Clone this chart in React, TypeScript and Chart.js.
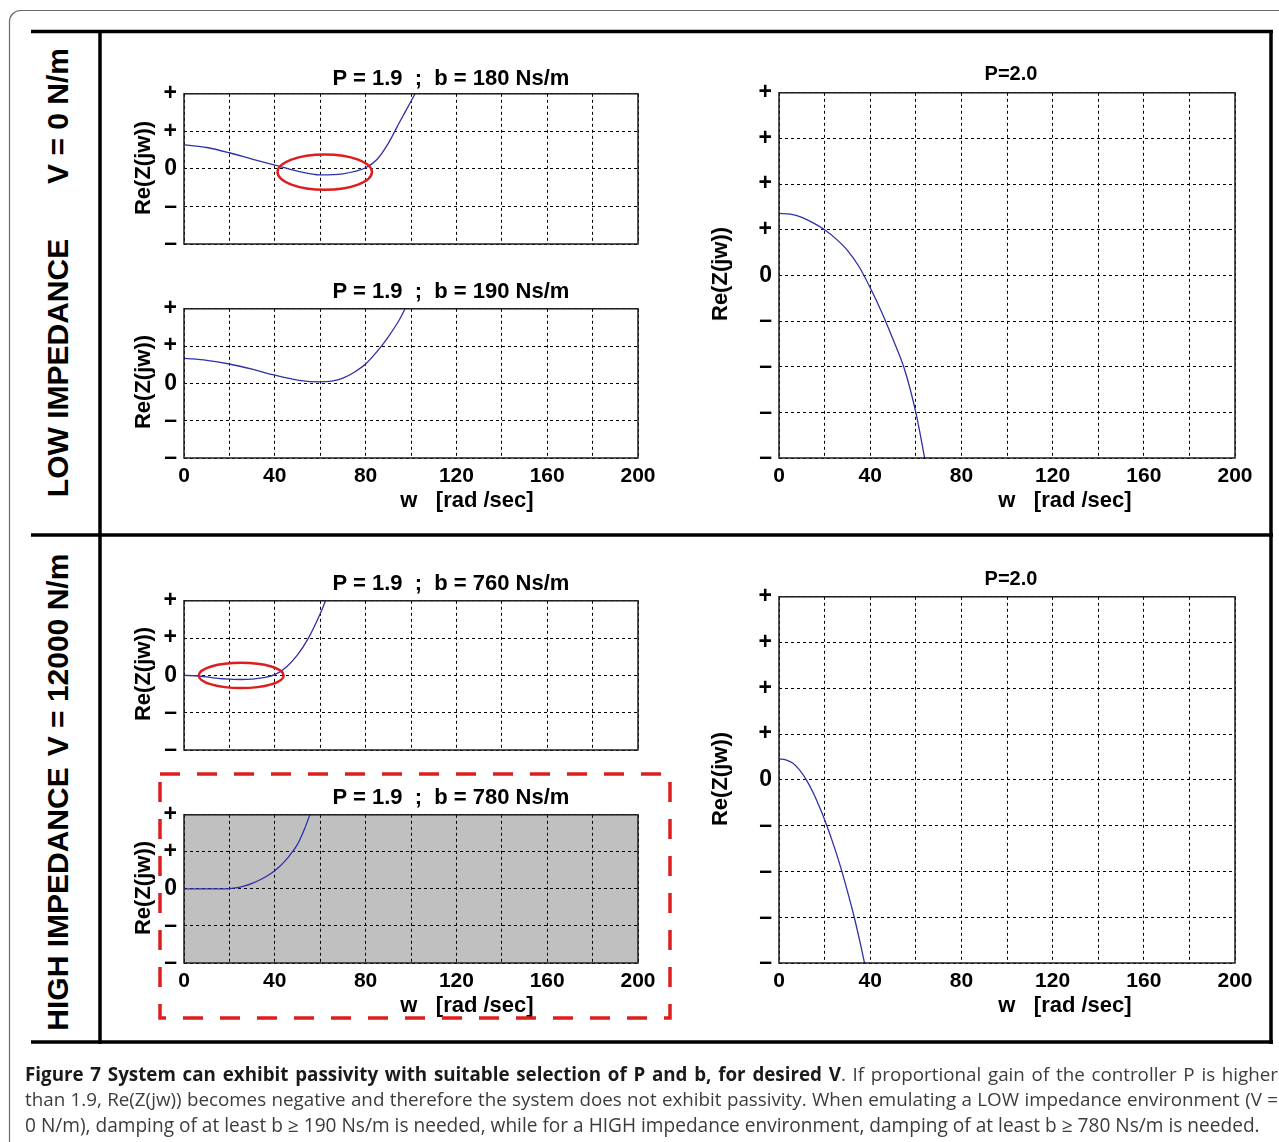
import React, { useEffect, useRef } from 'react';
import { Chart, registerables } from 'chart.js';

Chart.register(...registerables);

// ---------------- data ----------------
const wTickLabels = ['0', '40', '80', '120', '160', '200'];
const reTickSmall = ['–', '–', '0', '+', '+'];
const reTickLarge = ['–', '–', '–', '–', '0', '+', '+', '+', '+'];

// LOW impedance, P = 1.9, b = 180
const w180 = [0, 10, 20, 30, 40, 50, 60, 70, 80, 85, 90, 95, 100, 104];
const re180 = [0.64, 0.57, 0.43, 0.26, 0.1, -0.06, -0.16, -0.13, 0.03, 0.25, 0.68, 1.25, 1.8, 2.25];
// LOW impedance, P = 1.9, b = 190
const w190 = [0, 10, 20, 30, 40, 50, 60, 65, 70, 75, 80, 85, 90, 95, 99];
const re190 = [0.67, 0.62, 0.52, 0.38, 0.22, 0.09, 0.04, 0.06, 0.14, 0.3, 0.52, 0.85, 1.25, 1.72, 2.2];
// LOW impedance, P = 2.0
const wLowP2 = [0, 5, 10, 15, 20, 25, 30, 35, 40, 45, 50, 55, 60, 65];
const reLowP2 = [1.36, 1.34, 1.27, 1.15, 1.0, 0.8, 0.55, 0.2, -0.27, -0.8, -1.4, -2.05, -3.0, -4.3];
// HIGH impedance, P = 1.9, b = 760
const w760 = [0, 5, 10, 15, 20, 25, 30, 35, 40, 45, 50, 55, 60, 63];
const re760 = [0, -0.01, -0.04, -0.08, -0.1, -0.11, -0.1, -0.06, 0.02, 0.22, 0.55, 1.02, 1.65, 2.1];
// HIGH impedance, P = 1.9, b = 780
const w780 = [0, 10, 18, 22, 26, 30, 34, 38, 42, 46, 50, 53, 56];
const re780 = [0, 0, 0, 0.02, 0.07, 0.15, 0.26, 0.4, 0.6, 0.86, 1.2, 1.6, 2.1];
// HIGH impedance, P = 2.0
const wHighP2 = [0, 3, 6, 9, 12, 15, 18, 21, 24, 27, 30, 33, 36, 39];
const reHighP2 = [0.46, 0.44, 0.37, 0.22, 0.0, -0.28, -0.62, -1.0, -1.43, -1.9, -2.43, -3.0, -3.65, -4.35];

// highlighted regions (data units)
const ellipse180 = { cx: 62, cy: -0.085, rx: 20.8, ry: 0.47 };
const ellipse760 = { cx: 25.2, cy: 0, rx: 18.7, ry: 0.34 };

// ---------------- styling ----------------
const FONT = "'Liberation Sans', Arial, Helvetica, sans-serif";
const LINE_COLOR = '#3030a8';
const RED = '#dc1e1e';

type Ell = { cx: number; cy: number; rx: number; ry: number };
type PanelSpec = {
  left: number;
  top: number;
  right: number;
  bottom: number;
  yMax: number;
  yLabels: string[];
  showX: boolean;
  bg?: string;
  w: number[];
  re: number[];
  ellipse?: Ell;
};

const PAD_L = 70;
const PAD_R = 30;
const PAD_T = 20;
const PAD_B = 36;

const panels: PanelSpec[] = [
  { left: 184, right: 638, top: 93, bottom: 244, yMax: 2, yLabels: reTickSmall, showX: false, w: w180, re: re180, ellipse: ellipse180 },
  { left: 184, right: 638, top: 308, bottom: 458, yMax: 2, yLabels: reTickSmall, showX: true, w: w190, re: re190 },
  { left: 779, right: 1235, top: 92, bottom: 458, yMax: 4, yLabels: reTickLarge, showX: true, w: wLowP2, re: reLowP2 },
  { left: 184, right: 638, top: 600, bottom: 750, yMax: 2, yLabels: reTickSmall, showX: false, w: w760, re: re760, ellipse: ellipse760 },
  { left: 184, right: 638, top: 814, bottom: 963, yMax: 2, yLabels: reTickSmall, showX: true, bg: '#c0c0c0', w: w780, re: re780 },
  { left: 779, right: 1235, top: 596, bottom: 963, yMax: 4, yLabels: reTickLarge, showX: true, w: wHighP2, re: reHighP2 },
];

const framePlugin = {
  id: 'panelFrame',
  beforeDraw(chart: any, _a: any, opts: any) {
    if (!opts || !opts.bg) return;
    const { ctx, chartArea: a } = chart;
    ctx.save();
    ctx.fillStyle = opts.bg;
    ctx.fillRect(a.left, a.top, a.right - a.left, a.bottom - a.top);
    ctx.restore();
  },
  afterDatasetsDraw(chart: any, _a: any, opts: any) {
    const e: Ell | undefined = opts && opts.ellipse;
    if (!e) return;
    const { ctx } = chart;
    const xs = chart.scales.x;
    const ys = chart.scales.y;
    const cx = xs.getPixelForValue(e.cx);
    const cy = ys.getPixelForValue(e.cy);
    const rx = Math.abs(xs.getPixelForValue(e.cx + e.rx) - cx);
    const ry = Math.abs(ys.getPixelForValue(e.cy + e.ry) - cy);
    ctx.save();
    ctx.setLineDash([]);
    ctx.strokeStyle = RED;
    ctx.lineWidth = 2.5;
    ctx.beginPath();
    ctx.ellipse(cx, cy, rx, ry, 0, 0, Math.PI * 2);
    ctx.stroke();
    ctx.restore();
  },
  afterDraw(chart: any) {
    const { ctx } = chart;
    const xs = chart.scales.x;
    const ys = chart.scales.y;
    // frame through the extreme grid positions of both axes
    const l = xs.getPixelForValue(xs.min);
    const r = xs.getPixelForValue(xs.max);
    const t = ys.getPixelForValue(ys.max);
    const b = ys.getPixelForValue(ys.min);
    ctx.save();
    ctx.setLineDash([]);
    ctx.strokeStyle = '#1e1e1e';
    ctx.lineWidth = 1.5;
    ctx.strokeRect(l, t, r - l, b - t);
    ctx.restore();
  },
};

function Panel({ p }: { p: PanelSpec }) {
  const ref = useRef<HTMLCanvasElement>(null);
  const width = p.right - p.left + PAD_L + PAD_R;
  const height = p.bottom - p.top + PAD_T + PAD_B;
  useEffect(() => {
    const xFont = { family: FONT, size: 21, weight: 'bold' as const };
    const yFont = { family: FONT, size: 23, weight: 'bold' as const };
    const chart = new Chart(ref.current as HTMLCanvasElement, {
      type: 'line',
      data: {
        datasets: [
          {
            data: p.w.map((w, i) => ({ x: w, y: p.re[i] })),
            borderColor: LINE_COLOR,
            borderWidth: 1.3,
            pointRadius: 0,
            cubicInterpolationMode: 'monotone',
            fill: false,
          },
        ],
      },
      plugins: [framePlugin as any],
      options: {
        responsive: false,
        animation: false,
        devicePixelRatio: 1,
        layout: { padding: { left: 0, right: PAD_R, top: PAD_T, bottom: 0 } },
        plugins: {
          legend: { display: false },
          tooltip: { enabled: false },
          title: { display: false },
          panelFrame: { bg: p.bg, ellipse: p.ellipse },
        } as any,
        scales: {
          x: {
            type: 'linear',
            min: 0,
            max: 200,
            afterFit: (s: any) => {
              s.height = PAD_B;
            },
            grid: { color: '#000', lineWidth: 1, drawTicks: false },
            border: { display: false, dash: [3, 3] },
            ticks: {
              display: p.showX,
              stepSize: 20,
              autoSkip: false,
              maxRotation: 0,
              padding: 6,
              color: '#000',
              font: xFont,
              callback: (_v: any, i: number) => (i % 2 === 0 ? wTickLabels[i / 2] : ''),
            },
          },
          y: {
            type: 'linear',
            min: -p.yMax,
            max: p.yMax,
            afterFit: (s: any) => {
              s.width = PAD_L;
            },
            grid: { color: '#000', lineWidth: 1, drawTicks: false },
            border: { display: false, dash: [3, 3] },
            ticks: {
              stepSize: 1,
              autoSkip: false,
              padding: 7,
              color: '#000',
              font: yFont,
              callback: (_v: any, i: number) => p.yLabels[i],
            },
          },
        },
      },
    } as any);
    return () => chart.destroy();
  }, []);
  return (
    <canvas
      ref={ref}
      width={width}
      height={height}
      style={{ position: 'absolute', left: p.left - PAD_L, top: p.top - PAD_T, width, height }}
    />
  );
}

function HText({ x, y, text, size }: { x: number; y: number; text: string; size: number }) {
  return (
    <div
      style={{
        position: 'absolute',
        left: x,
        top: y,
        transform: 'translate(-50%, -50%)',
        whiteSpace: 'pre',
        font: `bold ${size}px ${FONT}`,
        lineHeight: 1,
        color: '#000',
      }}
    >
      {text}
    </div>
  );
}

function VText({ x, y, text, size }: { x: number; y: number; text: string; size: number }) {
  return (
    <div
      style={{
        position: 'absolute',
        left: x,
        top: y,
        transform: 'translate(-50%, -50%) rotate(-90deg)',
        whiteSpace: 'pre',
        font: `bold ${size}px ${FONT}`,
        lineHeight: 1,
        color: '#000',
      }}
    >
      {text}
    </div>
  );
}

const titles = [
  { x: 451, y: 78, t: 'P = 1.9  ;  b = 180 Ns/m', s: 22 },
  { x: 451, y: 291, t: 'P = 1.9  ;  b = 190 Ns/m', s: 22 },
  { x: 451, y: 583, t: 'P = 1.9  ;  b = 760 Ns/m', s: 22 },
  { x: 451, y: 797, t: 'P = 1.9  ;  b = 780 Ns/m', s: 22 },
  { x: 1011, y: 73, t: 'P=2.0', s: 20 },
  { x: 1011, y: 578, t: 'P=2.0', s: 20 },
  { x: 467, y: 500, t: 'w   [rad /sec]', s: 22 },
  { x: 1065, y: 500, t: 'w   [rad /sec]', s: 22 },
  { x: 467, y: 1005, t: 'w   [rad /sec]', s: 22 },
  { x: 1065, y: 1005, t: 'w   [rad /sec]', s: 22 },
];

const yTitles = [
  { x: 143, y: 168 },
  { x: 143, y: 382 },
  { x: 720, y: 274 },
  { x: 143, y: 674 },
  { x: 143, y: 888 },
  { x: 720, y: 779 },
];

const sideLabels = [
  { x: 58, y: 368, t: 'LOW IMPEDANCE' },
  { x: 58, y: 116, t: 'V = 0 N/m' },
  { x: 58, y: 899, t: 'HIGH IMPEDANCE' },
  { x: 58, y: 655, t: 'V = 12000 N/m' },
];

const captionStyle: React.CSSProperties = {
  position: 'absolute',
  left: 25,
  width: 1253,
  fontFamily: "'Open Sans', 'Noto Sans', sans-serif",
  fontSize: 18.8,
  lineHeight: '25px',
  color: '#3c3c3c',
  textAlign: 'justify',
  textAlignLast: 'justify',
  whiteSpace: 'nowrap',
};

export default function App() {
  return (
    <div
      style={{
        position: 'absolute',
        left: 0,
        top: 0,
        width: 1279,
        height: 1142,
        overflow: 'hidden',
        background: '#fff',
      }}
    >
      <svg
        width={1279}
        height={1142}
        style={{ position: 'absolute', left: 0, top: 0, pointerEvents: 'none' }}
      >
        <rect x={9.5} y={10.5} width={1400} height={1300} rx={11} ry={11} fill="none" stroke="#6a6a6a" strokeWidth={1.2} />
        <g stroke="#000" strokeWidth={3.5}>
          <line x1={31} y1={31.5} x2={1273} y2={31.5} />
          <line x1={31} y1={535} x2={1273} y2={535} />
          <line x1={31} y1={1042} x2={1273} y2={1042} />
          <line x1={100} y1={30} x2={100} y2={1044} />
          <line x1={1271} y1={30} x2={1271} y2={1044} />
        </g>
      </svg>

      {panels.map((p, i) => (
        <Panel key={i} p={p} />
      ))}

      {titles.map((t, i) => (
        <HText key={'t' + i} x={t.x} y={t.y} text={t.t} size={t.s} />
      ))}
      {yTitles.map((t, i) => (
        <VText key={'y' + i} x={t.x} y={t.y} text="Re(Z(jw))" size={22} />
      ))}
      {sideLabels.map((t, i) => (
        <VText key={'s' + i} x={t.x} y={t.y} text={t.t} size={30} />
      ))}

      <svg
        width={1279}
        height={1142}
        style={{ position: 'absolute', left: 0, top: 0, pointerEvents: 'none' }}
      >
        <rect x={160} y={774} width={510} height={244} fill="none" stroke={RED} strokeWidth={3.5} strokeDasharray="20 17" />
      </svg>

      <div style={{ ...captionStyle, top: 1062 }}>
        <b style={{ color: '#1a1a1a' }}>Figure 7 System can exhibit passivity with suitable selection of P and b, for desired V</b>. If proportional gain of the controller P is higher
      </div>
      <div style={{ ...captionStyle, top: 1087 }}>
        than 1.9, Re(Z(jw)) becomes negative and therefore the system does not exhibit passivity. When emulating a LOW impedance environment (V =
      </div>
      <div style={{ ...captionStyle, top: 1113, fontSize: 19.1, textAlignLast: 'left' }}>
        0 N/m), damping of at least b ≥ 190 Ns/m is needed, while for a HIGH impedance environment, damping of at least b ≥ 780 Ns/m is needed.
      </div>
    </div>
  );
}
